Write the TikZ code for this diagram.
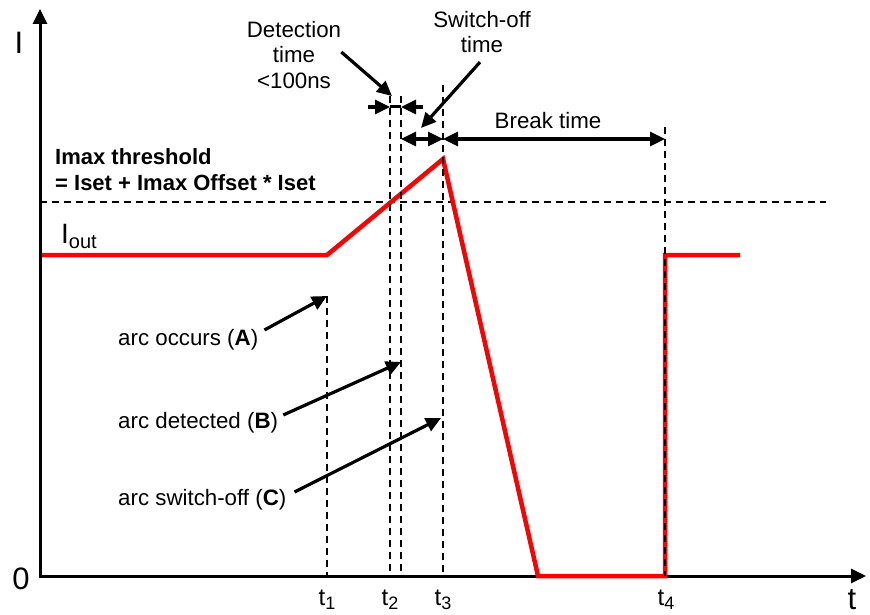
\documentclass[tikz,border=0pt]{standalone}
\usepackage{fontspec}
\setmainfont{Liberation Sans}
\usetikzlibrary{arrows.meta}

\begin{document}
\begin{tikzpicture}
	[x=1pt,y=-1pt,
	tip/.style={-{Triangle[length=15pt,width=14pt]}},
	axis/.style={line width=3pt,{Triangle[length=15pt,width=14pt]}-{Triangle[length=15pt,width=14pt]}},
	guide/.style={line width=1.4pt,dash pattern=on 7pt off 5pt},
	curve/.style={red,line width=4.5pt},
	pointer/.style={tip,line width=3.2pt},
	span/.style={line width=3.2pt,{Triangle[length=15pt,width=14pt]}-{Triangle[length=15pt,width=14pt]}},
	lbl/.style={inner sep=0pt,font=\fontsize{22.3}{25.5}\selectfont},
	big/.style={inner sep=0pt,font=\fontsize{31}{31}\selectfont},
	tick/.style={inner sep=0pt,font=\fontsize{24}{24}\selectfont}]
	\useasboundingbox (0,0) rectangle (870,615);

	% axes
	\coordinate (O) at (40,576);
	\coordinate (ytop) at (40,9);
	\coordinate (xend) at (866,576);
	\draw[axis] (ytop) -- (O) -- (xend);
	\node[big] (ylab) at (19,43) {I};
	\node[big] (zero) at (21,579) {0};
	\node[big] (xlab) at (852,600) {t};

	% threshold
	\coordinate (thrL) at (40,202);
	\coordinate (thrR) at (826,202);
	\draw[guide] (thrL) -- (thrR);

	% output current
	\draw[curve] (42,255) coordinate (c0) -- (327,255) coordinate (c1)
		-- (443,159) coordinate (c2) -- (538,576) coordinate (c3)
		-- (665,576) coordinate (c4) -- (665,255) coordinate (c5)
		-- (740,255) coordinate (c6);

	% time markers
	\foreach \n/\x/\y in {t1/327/296,t2a/390/96,t2b/401/96,t3/443/85,t4/665/127}{
		\coordinate (\n-top) at (\x,\y);
		\coordinate (\n-bot) at (\x,576);
		\draw[guide] (\n-top) -- (\n-bot);
	}
	\node[tick] (t1) at (327,600) {t\raisebox{-4pt}{\fontsize{18}{18}\selectfont 1}};
	\node[tick] (t2) at (390,600) {t\raisebox{-4pt}{\fontsize{18}{18}\selectfont 2}};
	\node[tick] (t3) at (443,600) {t\raisebox{-4pt}{\fontsize{18}{18}\selectfont 3}};
	\node[tick] (t4) at (666,600) {t\raisebox{-4pt}{\fontsize{18}{18}\selectfont 4}};

	% detection time
	\coordinate (dL) at (368,107);
	\coordinate (dA) at (390,107);
	\coordinate (dB) at (401,107);
	\coordinate (dR) at (423,107);
	\draw[pointer] (dL) -- (dA);
	\draw[pointer] (dR) -- (dB);
	\draw[line width=3pt] (dA) -- (dB);
	\node[lbl,align=center] (det) at (294,55) {Detection\\time\\<100ns};
	\coordinate (detTip) at (392,96);
	\draw[pointer] ([yshift=3pt]det.east) -- (detTip);

	% switch-off and break time
	\coordinate (sA) at (401,139);
	\coordinate (sB) at (443,139);
	\coordinate (sC) at (665,139);
	\draw[span] (sA) -- (sB);
	\draw[span] (sB) -- (sC);
	\node[lbl,align=center] (sw) at (482,32) {Switch-off\\time};
	\coordinate (swTip) at (421,128);
	\draw[pointer] ([xshift=-2pt,yshift=-9pt]sw.south) -- (swTip);
	\node[lbl] (brk) at (548,121) {Break time};

	% labels
	\node[lbl,font=\fontsize{22}{26}\selectfont\bfseries,align=left,anchor=west] (thr) at (55,170)
		{Imax threshold\\= Iset + Imax Offset * Iset};
	\node[inner sep=0pt,anchor=base west,font=\fontsize{28}{28}\selectfont] (iout) at (61,243)
		{I\raisebox{-5pt}{\fontsize{20}{20}\selectfont out}};

	% events
	\node[lbl,anchor=west] (occ) at (118,340) {arc occurs (\textbf{A})};
	\node[lbl,anchor=west] (dtc) at (118,423) {arc detected (\textbf{B})};
	\node[lbl,anchor=west] (off) at (118,500) {arc switch-off (\textbf{C})};
	\coordinate (tipB) at (401,362);
	\coordinate (tipC) at (441,418);
	\draw[pointer] ([shift={(6pt,10pt)}]occ.east) -- (t1-top);
	\draw[pointer] ([shift={(5pt,8pt)}]dtc.east) -- (tipB);
	\draw[pointer] ([shift={(8pt,8pt)}]off.east) -- (tipC);
\end{tikzpicture}
\end{document}
